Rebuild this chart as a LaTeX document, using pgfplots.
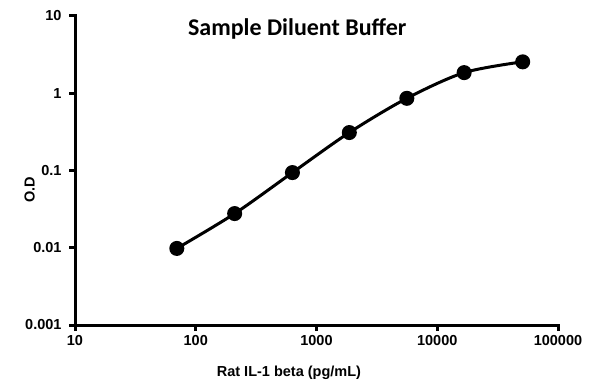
\documentclass[border=0pt]{standalone}
\usepackage{pgfplots}
\pgfplotsset{compat=1.18}
\usepackage{fontspec}
\setmainfont{Liberation Sans}
\newfontfamily\titlefont{Carlito}
\newcommand\tickfont{\fontsize{14.5}{15}\selectfont\bfseries}
\begin{document}
\begin{tikzpicture}
\useasboundingbox (0,0) rectangle (595pt,384pt);
\begin{axis}[
  at={(75pt,59pt)}, anchor=south west,
  scale only axis, width=483pt, height=309pt,
  xmode=log, ymode=log,
  xmin=10, xmax=100000, ymin=0.001, ymax=10,
  axis x line*=bottom, axis y line*=left,
  axis line style={line width=3pt, line cap=rect},
  xtick={10,100,1000,10000,100000},
  xticklabels={{\tickfont 10},{\tickfont 100},{\tickfont 1000},{\tickfont 10000},{\tickfont 100000}},
  ytick={0.001,0.01,0.1,1,10},
  yticklabels={{\tickfont 0.001},{\tickfont 0.01},{\tickfont 0.1},{\tickfont 1},{\tickfont 10}},
  xminorticks=false, yminorticks=false,
  tick align=outside,
  major tick length=6pt,
  every tick/.style={black, line width=3pt},
  /pgf/number format/assume math mode=true,
  xticklabel style={yshift=-1pt},
  yticklabel style={xshift=-4pt},
  clip=false,
]
\addplot[black, line width=3pt, smooth, tension=0.5, mark=*, mark size=6pt, mark options={solid}]
coordinates {
(69.7,0.0098) (210,0.0277) (632,0.094) (1870,0.31) (5600,0.86) (16700,1.85) (51000,2.55)
};
\node[font=\titlefont\bfseries\fontsize{24}{26}\selectfont] at (rel axis cs:0.46,0.958) {Sample Diluent Buffer};
\node[font=\bfseries\fontsize{14.5}{16}\selectfont] at (rel axis cs:0.443,-0.153) {Rat IL-1 beta (pg/mL)};
\node[font=\bfseries\fontsize{14.5}{16}\selectfont, rotate=90] at (rel axis cs:-0.094,0.437) {O.D};
\end{axis}
\end{tikzpicture}
\end{document}
